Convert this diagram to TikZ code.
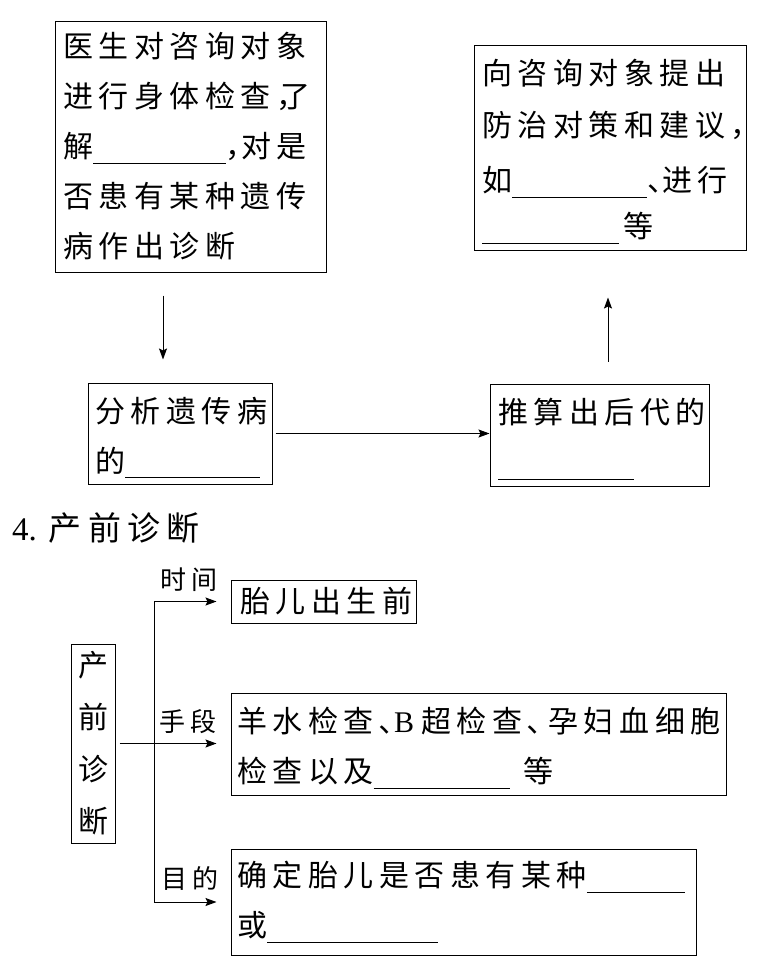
\documentclass[tikz,border=0pt]{standalone}
\usepackage{fontspec}
\setmainfont{Liberation Serif}
\newfontfamily\cjk[LetterSpace=18.5]{Noto Sans CJK SC}
\newfontfamily\cjkn{Noto Sans CJK SC}
\newfontfamily\lat{Liberation Serif}
\usetikzlibrary{calc,arrows.meta}
\def\bw{0.8pt}
\def\gap{14pt}
\newcommand\blank[1]{\rule[-6pt]{#1pt}{\bw}}
\newcommand\hp{\kern-15pt}
\newcommand\tall{\rule{0pt}{33pt}}
\tikzset{
  box/.style={draw, line width=1pt, inner sep=0pt, inner xsep=8pt, align=left,
    font=\cjk\fontsize{30}{50}\selectfont},
  arr/.style={-{Stealth[length=11pt,width=8pt,inset=2pt]}, line width=1pt},
  lbl/.style={inner sep=0pt, font=\cjk\fontsize{26}{30}\selectfont}
}
\begin{document}
\begin{tikzpicture}[x=1pt,y=-1pt]
\useasboundingbox (0,0) rectangle (781,978);

% genetic counselling
\node[box, text width=255pt, minimum height=251pt] (b1) at (190.5,146.5)
  {医生对咨询对象\\进行身体检查，\kern-26pt 了\\解\blank{133}，\hp 对是\\否患有某种遗传\\病作出诊断};
\node[box, text width=256pt, minimum height=205pt,
  font=\cjk\fontsize{30}{52}\selectfont] (b2) at (610,147.5)
  {\tall 向咨询对象提出\\防治对策和建议，\\[3pt]如\blank{135}、\hp 进行\\[-6pt]\blank{137}\hspace{4pt}等};
\node[box, inner xsep=7pt, text width=170pt, minimum height=101pt] (b3) at (180,433.5)
  {\tall 分析遗传病\\的\blank{135}};
\node[box, text width=203pt, minimum height=102pt] (b4) at (599.5,435)
  {\tall 推算出后代的\\\blank{136}};

\draw[arr, shorten <=23pt, shorten >=23pt] ([xshift=-27.5pt]b1.south) -- ([xshift=-27.5pt]b1.south |- b3.north);
\draw[arr, shorten <=3pt] (b3.east) -- (b3.east -| b4.west);
\draw[arr, shorten <=22pt, shorten >=47pt] ([xshift=8.5pt]b4.north) -- ([xshift=8.5pt]b4.north |- b2.south);

% prenatal diagnosis
\node[anchor=west, inner sep=0pt, font=\cjk\fontsize{33}{36}\selectfont] (hd) at (12,528)
  {{\lat 4.}\hspace{12pt}产前诊断};

\node[box, inner xsep=0pt, align=center, text width=44pt, minimum height=199pt,
  font=\cjkn\fontsize{30}{52}\selectfont] (pz) at (93,743.5) {产\\前\\诊\\断};
\node[box, inner xsep=9pt, text width=167pt, minimum height=43pt] (s1) at (323.5,601.5)
  {胎儿出生前};
\node[box, inner xsep=6pt, text width=483pt, minimum height=102pt] (s2) at (478.5,744)
  {\tall 羊水检查､{\lat B}\hspace{7pt}超检查､孕妇血细胞\\检查以及\blank{136}\hspace{\gap}等};
\node[box, inner xsep=6pt, text width=453pt, minimum height=106pt] (s3) at (463.5,902)
  {确定胎儿是否患有某种\blank{98}\\或\blank{171}};

\coordinate (br) at (154,0);
\draw[arr, shorten >=\gap] (br |- s1.west) -- (s1.west);
\draw[arr, shorten >=\gap] (br |- s1.west) -- (br |- s3.west) -- (s3.west);
\draw[arr, shorten >=\gap] ([xshift=4pt]pz.east) -- (pz.east -| s2.west);

\node[lbl] (tm) at (189,580) {时间};
\node[lbl] (sd) at (188,722) {手段};
\node[lbl] (md) at (190,878) {目的};

\end{tikzpicture}
\end{document}
